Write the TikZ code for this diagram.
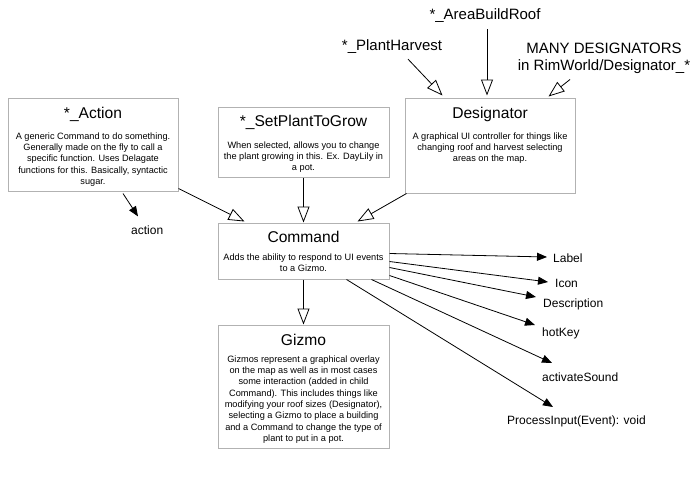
\documentclass[tikz,border=0pt]{standalone}
\usepackage{fontspec}
\setmainfont{Liberation Sans}
\usetikzlibrary{arrows.meta,positioning,calc}
\tikzstyle{box}=[draw=black!30,line width=1pt,inner sep=0pt]
\tikzstyle{boxtitle}=[font=\fontsize{15.6}{18}\selectfont,inner sep=0pt]
\tikzstyle{boxtext}=[font=\fontsize{9.2}{11.3}\selectfont,align=center,inner sep=0pt]
\tikzstyle{member}=[font=\fontsize{12}{14}\selectfont,anchor=west,inner sep=0pt]
\tikzstyle{outer}=[font=\fontsize{15}{17}\selectfont,align=center,inner sep=0pt]
\tikzstyle{inherit} = [draw,line width=0.8pt,-{Triangle[open,length=16pt,width=12pt]}]
\tikzstyle{uses} = [draw,line width=0.8pt,-{Triangle[length=10pt,width=8pt]}]

\begin{document}
\begin{tikzpicture}[x=1pt,y=-1pt]
    \path[fill=white] (0,0) rectangle (700,495);
    \useasboundingbox (0,0) rectangle (700,495);

    % class boxes
    \node[box,minimum width=170pt,minimum height=93pt] (action) at (93,144.5) {};
    \node[box,minimum width=171pt,minimum height=70pt] (setplant) at (303.5,142) {};
    \node[box,minimum width=170pt,minimum height=95pt] (designator) at (490,145.5) {};
    \node[box,minimum width=171pt,minimum height=56pt] (command) at (303.5,251) {};
    \node[box,minimum width=171pt,minimum height=123pt] (gizmo) at (303.5,386.5) {};

    \node[boxtitle,below=9pt of action.north] (actiontitle) {*\_Action};
    \node[boxtext,below=35pt of action.north] (actiontext) {A generic Command to do something.\\Generally made on the fly to call a\\specific function. Uses Delagate\\functions for this. Basically, syntactic\\sugar.};
    \node[boxtitle,below=8pt of setplant.north] (setplanttitle) {*\_SetPlantToGrow};
    \node[boxtext,below=35pt of setplant.north] (setplanttext) {When selected, allows you to change\\the plant growing in this. Ex. DayLily in\\a pot.};
    \node[boxtitle,below=9pt of designator.north] (designatortitle) {Designator};
    \node[boxtext,below=35pt of designator.north] (designatortext) {A graphical UI controller for things like\\changing roof and harvest selecting\\areas on the map.};
    \node[boxtitle,below=8pt of command.north] (commandtitle) {Command};
    \node[boxtext,below=31pt of command.north] (commandtext) {Adds the ability to respond to UI events\\to a Gizmo.};
    \node[boxtitle,below=9pt of gizmo.north] (gizmotitle) {Gizmo};
    \node[boxtext,below=31pt of gizmo.north] (gizmotext) {Gizmos represent a graphical overlay\\on the map as well as in most cases\\some interaction (added in child\\Command). This includes things like\\modifying your roof sizes (Designator),\\selecting a Gizmo to place a building\\and a Command to change the type of\\plant to put in a pot.};

    % subclasses of Designator
    \node[outer] (harvest) at (392,47) {*\_PlantHarvest};
    \node[outer] (roof) at (485,16) {*\_AreaBuildRoof};
    \node[outer] (many) at (604,58) {MANY DESIGNATORS\\in RimWorld/Designator\_*};

    % members
    \node[member] (actlbl) at (131,230) {action};
    \foreach \pos/ \name/\txt in {{(553,258)/label/Label}, {(555,283)/icon/Icon}, {(543,304)/descr/Description}, {(542,333)/hotkey/hotKey}, {(542,377)/sound/activateSound}, {(507,421)/input/{ProcessInput(Event): void}}}
        \node[member] (\name) at \pos {\txt};

    % inheritance
    \path[inherit] ($(harvest.south)+(16,5)$) -- ($(designator.north west)+(38,-2)$);
    \path[inherit] ($(roof.south)+(2,6)$) -- ($(designator.north)+(-3,-2)$);
    \path[inherit] ($(many.south)+(-34,6)$) -- ($(designator.north east)+(-27,-1)$);
    \path[inherit] ($(action.south east)+(0,-3)$) -- ($(command.north west)+(27,-1)$);
    \path[inherit] (setplant.south) -- (command.north);
    \path[inherit] ($(designator.south west)+(2,0)$) -- ($(command.north east)+(-32,-1)$);
    \path[inherit] (command.south) -- (gizmo.north);

    % fields and methods
    \path[uses] ($(action.south)+(30,2)$) -- ($(actlbl.north west)+(7,-9)$);
    \foreach \sx/\sy/\dest/\ex/\ey in {0/-26/label/-6/-1, 0/-18/icon/-7/-1, 0/-12/descr/-7/-7, 0/-4/hotkey/-7/-8, -18/0/sound/10/-14, -43/0/input/46/-14}
        \path[uses] ($(command.south east)+(\sx,\sy)$) -- ($(\dest.west)+(\ex,\ey)$);

\end{tikzpicture}
\end{document}
